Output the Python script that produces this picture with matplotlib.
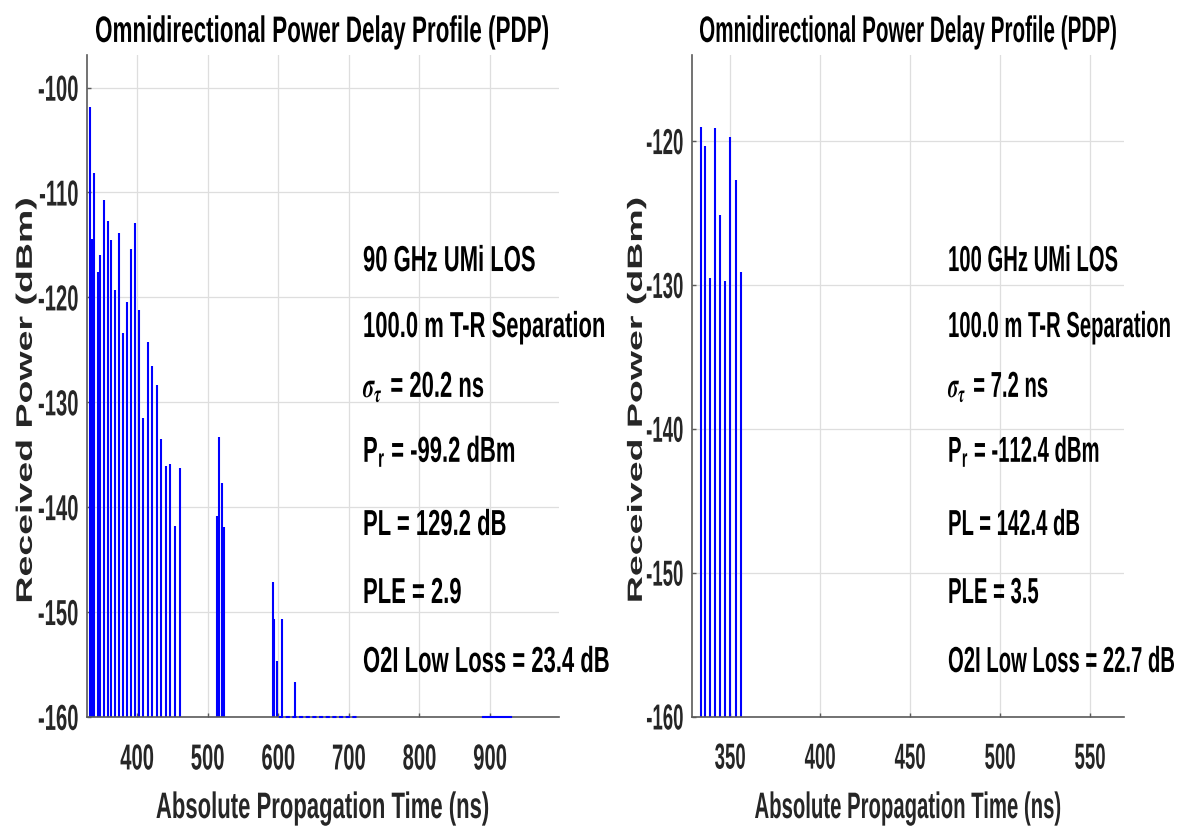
import matplotlib
matplotlib.use("Agg")
import matplotlib.pyplot as plt
from matplotlib.patheffects import AbstractPathEffect
from matplotlib.textpath import TextToPath
from matplotlib.transforms import Affine2D

# ---------------- data ----------------
# 90 GHz UMi LOS: multipath component arrival times (ns) and received power (dBm)
left_times = [333.6, 336.4, 339.6, 344.3, 348.1, 352.8, 358.4, 363.2, 368.9, 374.0,
              380.2, 385.9, 391.0, 396.6, 402.8, 408.9, 415.6, 421.6, 427.7, 433.4,
              440.4, 446.1, 453.7, 460.2,
              513.1, 515.4, 519.6, 523.4,
              592.3, 594.6, 598.4, 605.4, 623.4]
left_power = [-101.9, -114.4, -108.2, -117.6, -116.0, -110.7, -112.7, -114.5, -119.3, -113.9,
              -123.4, -120.5, -115.4, -112.9, -121.2, -131.5, -124.3, -126.6, -128.4, -133.5,
              -136.1, -135.9, -141.8, -136.3,
              -140.9, -133.3, -137.7, -141.9,
              -147.2, -150.7, -154.7, -150.7, -156.7]
# stretches of weak components lying on the noise floor (start, end) in ns
left_floor_weak = (601.6, 711.9)
left_floor_flat = (889.7, 929.3)

# 100 GHz UMi LOS
right_times = [333.6, 336.2, 338.6, 341.3, 344.3, 347.2, 350.0, 353.2, 355.9]
right_power = [-119.0, -120.3, -129.5, -119.1, -125.1, -129.7, -119.7, -122.7, -129.1]

noise_floor = -160.0
left_xticks = [400, 500, 600, 700, 800, 900]
right_xticks = [350, 400, 450, 500, 550]
left_yticks = [-160, -150, -140, -130, -120, -110, -100]
right_yticks = [-160, -150, -140, -130, -120]
left_xmax = 997.6
right_xmax = 569.0

left_notes = ["90 GHz UMi LOS", "100.0 m T-R Separation", r"$\sigma_{\tau}\,$ = 20.2 ns",
              r"P$_{\mathregular{r}}$ = -99.2 dBm", "PL = 129.2 dB", "PLE = 2.9",
              "O2I Low Loss = 23.4 dB"]
right_notes = ["100 GHz UMi LOS", "100.0 m T-R Separation", r"$\sigma_{\tau}\,$ = 7.2 ns",
               r"P$_{\mathregular{r}}$ = -112.4 dBm", "PL = 142.4 dB", "PLE = 3.5",
               "O2I Low Loss = 22.7 dB"]

title_text = "Omnidirectional Power Delay Profile (PDP)"
xlabel_text = "Absolute Propagation Time (ns)"
ylabel_text = "Received Power (dBm)"

# ---------------- style ----------------
plt.rcParams["font.family"] = ["Liberation Sans", "DejaVu Sans"]
plt.rcParams["font.weight"] = "bold"
plt.rcParams["axes.unicode_minus"] = False
plt.rcParams["mathtext.fontset"] = "stix"

EM = TextToPath.FONT_SCALE


class GlyphScale(AbstractPathEffect):
    """Rescale glyph outlines in the text's own frame (x along the line,
    y upward from the baseline).  The pivot is the middle of the ink along x
    and the height ``pivot_em`` (in em) along y."""

    def __init__(self, sx=1.0, sy=1.0, pivot_em=0.0):
        super().__init__()
        self.sx = sx
        self.sy = sy
        self.pivot_em = pivot_em

    def draw_path(self, renderer, gc, tpath, affine, rgbFace=None):
        ext = tpath.get_extents()
        xc = 0.5 * (ext.x0 + ext.x1)
        yc = self.pivot_em * EM
        pre = Affine2D().translate(-xc, -yc).scale(self.sx, self.sy).translate(xc, yc)
        renderer.draw_path(gc, tpath, pre + affine, rgbFace)


W, H = 1179, 834
fig = plt.figure(figsize=(W / 100, H / 100), dpi=100)
fig.patch.set_facecolor("white")


def px_rect(x0, x1, ytop, ybot):
    return [x0 / W, 1 - ybot / H, (x1 - x0) / W, (ybot - ytop) / H]


ax1 = fig.add_axes(px_rect(86.7, 559.0, 55.0, 716.7))
ax2 = fig.add_axes(px_rect(691.7, 1124.3, 55.0, 716.7))

note_y = [0.6735, 0.5738, 0.4832, 0.3849, 0.2746, 0.1718, 0.0676]

# type sizes (pt) and width factors of the condensed lettering
TICK_PT, TITLE_PT, LABEL_PT, YLABEL_PT, NOTE_PT = 26.0, 26.5, 26.5, 27.0, 26.0
TICK_W, TITLE_W, LABEL_W, NOTE_W = 0.56, 0.61, 0.60, 0.61

# axes, times, powers, xticks, yticks, xmax, notes, ylabel x, note x, narrowing
panels = [
    (ax1, left_times, left_power, left_xticks, left_yticks, left_xmax, left_notes,
     -0.1161, 0.585, 1.0),
    (ax2, right_times, right_power, right_xticks, right_yticks, right_xmax, right_notes,
     -0.1151, 0.5925, 0.92),
]

for ax, t, p, xt, yt, xmax, notes, ylab_x, nx, k in panels:
    ax.vlines(t, noise_floor, p, colors="#0000ff", linewidth=1.5, zorder=2)

    ax.set_xlim(t[0] - 5, xmax)
    ax.set_ylim(noise_floor, max(p) + 5)
    ax.set_xticks(xt)
    ax.set_yticks(yt)

    ax.grid(True, color="#dedede", linewidth=0.9)
    ax.set_axisbelow(True)
    for s in ("top", "right"):
        ax.spines[s].set_visible(False)
    for s in ("left", "bottom"):
        ax.spines[s].set_color("#5a5a5a")
        ax.spines[s].set_linewidth(1.2)

    tw = TICK_W * k
    ax.tick_params(direction="in", length=3.2, width=1.0, color="#5a5a5a",
                   labelsize=TICK_PT * tw, labelcolor="#262626")
    ax.tick_params(axis="x", pad=19)
    ax.tick_params(axis="y", pad=6)
    for lab in ax.get_xticklabels():
        lab.set_path_effects([GlyphScale(sy=1 / tw, pivot_em=0.716)])
    for lab in ax.get_yticklabels():
        lab.set_path_effects([GlyphScale(sy=1 / tw, pivot_em=0.358)])

    w = TITLE_W * k
    ttl = ax.set_title(title_text, fontsize=TITLE_PT * w, fontweight="bold", pad=9.4,
                       color="black")
    ttl.set_path_effects([GlyphScale(sy=1 / w)])

    w = LABEL_W * k
    ax.set_xlabel(xlabel_text, fontsize=LABEL_PT * w, fontweight="bold", color="#262626")
    ax.xaxis.label.set_va("baseline")
    ax.xaxis.set_label_coords(0.5, -0.1531)
    ax.xaxis.label.set_path_effects([GlyphScale(sy=1 / w)])

    ax.set_ylabel(ylabel_text, fontsize=YLABEL_PT * w, fontweight="bold", color="#262626")
    ax.yaxis.label.set_va("baseline")
    ax.yaxis.set_label_coords(ylab_x, 0.478)
    ax.yaxis.label.set_path_effects([GlyphScale(sx=1 / w)])

    w = NOTE_W * k
    for s, y in zip(notes, note_y):
        ax.text(nx, y, s, transform=ax.transAxes, fontsize=NOTE_PT * w, fontweight="bold",
                ha="left", va="baseline", color="black",
                path_effects=[GlyphScale(sy=1 / w)])

# weak components along the floor of the 90 GHz profile
ax1.plot(left_floor_weak, [noise_floor, noise_floor], color="#0000ff", linewidth=1.5,
         linestyle=(0, (2.0, 1.2)), clip_on=False, zorder=3)
ax1.plot(left_floor_flat, [noise_floor, noise_floor], color="#0000ff", linewidth=1.5,
         clip_on=False, zorder=3)

fig.savefig("out.png", dpi=100, facecolor="white")
